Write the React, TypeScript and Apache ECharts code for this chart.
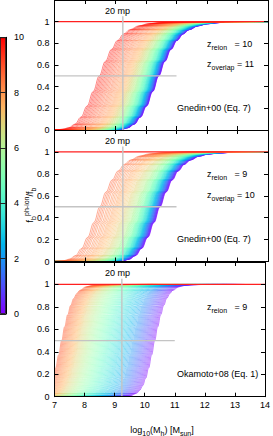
import React, { useEffect, useRef } from "react";
import * as echarts from "echarts";

// ---------- data ----------
const xTickValues = [7, 8, 9, 10, 11, 12, 13, 14];
const colorbarTicks = [0, 2, 4, 6, 8, 10];

// redshift of every drawn curve
const zTop = [0.0,0.1,0.2,0.3,0.4,0.5,0.6,0.7,0.8,0.9,1.0,1.1,1.2,1.3,1.4,1.5,1.6,1.7,1.8,1.9,2.0,2.1,2.2,2.3,2.4,2.5,2.6,2.7,2.8,2.9,3.0,3.1,3.2,3.3,3.4,3.5,3.6,3.7,3.8,3.9,4.0,4.1,4.2,4.3,4.4,4.5,4.6,4.7,4.8,4.9,5.0,5.1,5.2,5.3,5.4,5.5,5.6,5.7,5.8,5.9,6.0,6.1,6.2,6.3,6.4,6.5,6.6,6.7,6.8,6.9,7.0,7.1,7.2,7.3,7.4,7.5,7.6,7.7,7.8,7.9,8.0,8.1,8.2,8.3,8.4,8.5,8.6,8.7,8.8,8.9,9.0,9.1,9.2,9.3,9.4,9.5,9.6,9.7,9.8,9.9];
// log10 mass where each curve of the top panel crosses one half
const halfTop = [10.42,10.414,10.408,10.402,10.396,10.39,10.384,10.378,10.372,10.366,10.36,10.352,10.344,10.336,10.328,10.32,10.312,10.304,10.296,10.288,10.28,10.271,10.262,10.253,10.244,10.235,10.226,10.217,10.208,10.199,10.19,10.179,10.168,10.157,10.146,10.135,10.124,10.113,10.102,10.091,10.08,10.066,10.052,10.038,10.024,10.01,9.996,9.982,9.968,9.954,9.94,9.923,9.906,9.889,9.872,9.855,9.838,9.821,9.804,9.787,9.77,9.748,9.726,9.704,9.682,9.66,9.638,9.616,9.594,9.572,9.55,9.525,9.499,9.472,9.444,9.415,9.385,9.354,9.322,9.29,9.257,9.22,9.18,9.14,9.10,9.06,9.02,8.98,8.935,8.893,8.85,8.808,8.766,8.724,8.682,8.64,8.598,8.556,8.514,8.47];

const zMid = [0.0,0.1,0.2,0.3,0.4,0.5,0.6,0.7,0.8,0.9,1.0,1.1,1.2,1.3,1.4,1.5,1.6,1.7,1.8,1.9,2.0,2.1,2.2,2.3,2.4,2.5,2.6,2.7,2.8,2.9,3.0,3.1,3.2,3.3,3.4,3.5,3.6,3.7,3.8,3.9,4.0,4.1,4.2,4.3,4.4,4.5,4.6,4.7,4.8,4.9,5.0,5.1,5.2,5.3,5.4,5.5,5.6,5.7,5.8,5.9,6.0,6.1,6.2,6.3,6.4,6.5,6.6,6.7,6.8,6.9,7.0,7.1,7.2,7.3,7.4,7.5,7.6,7.7,7.8,7.9,8.0,8.1,8.2,8.3,8.4,8.5,8.6,8.7,8.8,8.9];
const halfMid = [10.46,10.451,10.442,10.433,10.424,10.415,10.406,10.397,10.388,10.379,10.37,10.36,10.35,10.34,10.33,10.32,10.31,10.30,10.29,10.28,10.27,10.259,10.248,10.237,10.226,10.215,10.204,10.193,10.182,10.171,10.16,10.147,10.134,10.121,10.108,10.095,10.082,10.069,10.056,10.043,10.03,10.014,9.998,9.982,9.966,9.95,9.934,9.918,9.902,9.886,9.87,9.848,9.826,9.804,9.782,9.76,9.738,9.716,9.694,9.672,9.65,9.62,9.59,9.56,9.53,9.50,9.47,9.44,9.41,9.38,9.35,9.31,9.27,9.23,9.19,9.15,9.11,9.07,9.03,8.99,8.95,8.90,8.85,8.80,8.75,8.69,8.64,8.59,8.54,8.49];

const zBot = [0.0,0.1,0.2,0.3,0.4,0.5,0.6,0.7,0.8,0.9,1.0,1.1,1.2,1.3,1.4,1.5,1.6,1.7,1.8,1.9,2.0,2.1,2.2,2.3,2.4,2.5,2.6,2.7,2.8,2.9,3.0,3.1,3.2,3.3,3.4,3.5,3.6,3.7,3.8,3.9,4.0,4.1,4.2,4.3,4.4,4.5,4.6,4.7,4.8,4.9,5.0,5.1,5.2,5.3,5.4,5.5,5.6,5.7,5.8,5.9,6.0,6.1,6.2,6.3,6.4,6.5,6.6,6.7,6.8,6.9,7.0,7.1,7.2,7.3,7.4,7.5,7.6,7.7,7.8,7.9,8.0,8.1,8.2,8.3,8.4,8.5,8.6,8.7,8.8,8.9];
const halfBot = [10.33,10.294,10.258,10.222,10.186,10.15,10.114,10.078,10.042,10.006,9.97,9.935,9.90,9.865,9.83,9.795,9.76,9.725,9.69,9.655,9.62,9.58,9.54,9.50,9.46,9.42,9.38,9.34,9.30,9.26,9.22,9.183,9.146,9.109,9.072,9.035,8.998,8.961,8.924,8.887,8.85,8.815,8.78,8.745,8.71,8.675,8.64,8.605,8.57,8.535,8.50,8.465,8.43,8.395,8.36,8.325,8.29,8.255,8.22,8.185,8.15,8.117,8.084,8.051,8.018,7.985,7.952,7.919,7.886,7.853,7.82,7.79,7.76,7.73,7.70,7.67,7.64,7.61,7.58,7.55,7.52,7.489,7.458,7.427,7.396,7.365,7.334,7.303,7.272,7.24];

// curve profile: offset in log10 mass from the half point -> fraction
const gnedinOffset = [-4,-1.6,-1.4,-1.2,-1.0,-0.8,-0.6,-0.4,-0.2,0,0.2,0.4,0.6,0.8,1.0,1.3,1.6,2.0,2.5,3.0,4.0];
const gnedinFrac = [0,0.0007,0.0023,0.0075,0.0214,0.054,0.119,0.221,0.355,0.5,0.634,0.744,0.827,0.886,0.926,0.962,0.981,0.992,0.9975,0.9992,1];
const okamotoOffset = [-4,-1.0,-0.8,-0.6,-0.5,-0.4,-0.3,-0.2,-0.1,0,0.1,0.2,0.3,0.4,0.5,0.6,0.8,1.0,1.3,1.6,3];
const okamotoFrac = [0,0.0022,0.0083,0.030,0.0555,0.098,0.164,0.257,0.373,0.5,0.623,0.730,0.8135,0.875,0.918,0.947,0.978,0.991,0.9978,0.9995,1];

const mpMass = 9.24;      // 20 particle masses
const halfLevel = 0.5;
const halfLineEnd = 11;
const mpLineTop = 1.05;
const fullLevel = 1;

// ---------- styling helpers ----------
const FONT = "Liberation Sans, Arial, sans-serif";
function pal(t: number) {
  const r = Math.min(1, Math.abs(2 * t - 0.5));
  const g = Math.max(0, Math.sin(Math.PI * t));
  const b = Math.max(0, Math.cos((Math.PI * t) / 2));
  return `rgb(${Math.round(r * 255)},${Math.round(g * 255)},${Math.round(b * 255)})`;
}

const panels = [
  { top: 0, height: 130 },
  { top: 130, height: 131.5 },
  { top: 262, height: 134.7 },
];

export default function App() {
  const ref = useRef<HTMLDivElement>(null);
  useEffect(() => {
    if (!ref.current) return;
    const chart = echarts.init(ref.current, undefined, { renderer: "svg" });

    const grid: any[] = panels.map((p) => ({ left: 54.5, right: 5, top: p.top, height: p.height }));
    grid.push({ left: 0, width: 6, top: 37.3, height: 276.7 });

    const xAxis: any[] = [];
    const yAxis: any[] = [];
    panels.forEach((_, i) => {
      xAxis.push({
        gridIndex: i, type: "value", min: xTickValues[0], max: xTickValues[xTickValues.length - 1], interval: 1,
        axisLine: { show: true, onZero: false, lineStyle: { color: "#000", width: 1 } },
        axisTick: { show: true, inside: true, length: 4, lineStyle: { color: "#000" } },
        axisLabel: { show: i === 2, margin: 4, fontSize: 9, color: "#000", fontFamily: FONT },
        splitLine: { show: false }, z: 5,
      });
    });
    panels.forEach((_, i) => {
      xAxis.push({
        gridIndex: i, type: "value", position: "top", min: 7, max: 14, interval: 1,
        axisLine: { show: true, onZero: false, lineStyle: { color: "#000", width: 1 } },
        axisTick: { show: true, inside: true, length: 4, lineStyle: { color: "#000" } },
        axisLabel: { show: false }, splitLine: { show: false }, z: 5,
      });
    });
    xAxis.push({ gridIndex: 3, type: "category", data: ["c"], show: false });

    panels.forEach((_, i) => {
      yAxis.push({
        gridIndex: i, type: "value", min: 0, max: 1.2, interval: 0.2,
        axisLine: { show: true, onZero: false, lineStyle: { color: "#000", width: 1 } },
        axisTick: { show: true, inside: true, length: 4, lineStyle: { color: "#000" } },
        axisLabel: {
          margin: 5, fontSize: 9, color: "#000", fontFamily: FONT,
          formatter: (v: number) => (v > 1.05 ? "" : String(+v.toFixed(1))),
        },
        splitLine: { show: false }, z: 5,
      });
    });
    panels.forEach((_, i) => {
      yAxis.push({
        gridIndex: i, type: "value", position: "right", min: 0, max: 1.2, interval: 0.2,
        axisLine: { show: true, onZero: false, lineStyle: { color: "#000", width: 1 } },
        axisTick: { show: true, inside: true, length: 4, lineStyle: { color: "#000" } },
        axisLabel: { show: false }, splitLine: { show: false }, z: 5,
      });
    });
    yAxis.push({
      gridIndex: 3, type: "value", position: "right", min: colorbarTicks[0], max: colorbarTicks[colorbarTicks.length - 1], interval: 2, z: 10,
      axisLine: { show: true, lineStyle: { color: "#000", width: 1 } },
      axisTick: { show: true, inside: true, length: 6, lineStyle: { color: "#222", width: 1 } },
      axisLabel: { margin: 8, fontSize: 9, color: "#000", fontFamily: FONT },
      splitLine: { show: false },
    });

    const series: any[] = [];
    const addCurves = (pi: number, zs: number[], halves: number[], U: number[], F: number[]) => {
      zs.forEach((z, k) => {
        series.push({
          type: "line", xAxisIndex: pi, yAxisIndex: pi, silent: true, clip: true,
          symbol: "none", smooth: 0.4, smoothMonotone: "x",
          data: U.map((u, j) => [halves[k] + u, F[j]]),
          lineStyle: { color: pal(z / 10), width: 0.5 },
          z: 2,
        });
      });
    };
    addCurves(0, zTop, halfTop, gnedinOffset, gnedinFrac);
    addCurves(1, zMid, halfMid, gnedinOffset, gnedinFrac);
    addCurves(2, zBot, halfBot, okamotoOffset, okamotoFrac);

    panels.forEach((_, i) => {
      const line = (data: number[][], color: string, width: number) => ({
        type: "line", xAxisIndex: i, yAxisIndex: i, silent: true, symbol: "none",
        data, lineStyle: { color, width }, z: 4,
      });
      series.push(line([[7, fullLevel], [14, fullLevel]], "#ff2020", 1.3));
      series.push(line([[7, halfLevel], [halfLineEnd, halfLevel]], "#c4c4c4", 1.4));
      series.push(line([[mpMass, 0], [mpMass, mpLineTop]], "#c4c4c4", 1.4));
    });

    const stops = [];
    for (let k = 0; k <= 20; k++) stops.push({ offset: k / 20, color: pal(k / 20) });
    series.push({
      type: "bar", xAxisIndex: 6, yAxisIndex: 6, data: [10], barWidth: "100%", silent: true,
      itemStyle: { color: { type: "linear", x: 0, y: 1, x2: 0, y2: 0, colorStops: stops }, borderColor: "#000", borderWidth: 0.8 },
    });

    const sub = { fontSize: 7, lineHeight: 8, verticalAlign: "bottom", fontFamily: FONT, fill: "#000" };
    const sup = { fontSize: 7, lineHeight: 8, verticalAlign: "top", fontFamily: FONT, fill: "#000" };
    const m = { fontSize: 9, lineHeight: 14, fontFamily: FONT, fill: "#000" };
    const txt = (x: number, y: number, text: string, align = "left", extra: any = {}) => ({
      type: "text", x, y, silent: true, z: 20, ...extra,
      style: { text, align, verticalAlign: "middle", rich: { m, s: sub, p: sup }, fontSize: 9, fontFamily: FONT, fill: "#000" },
    });

    const graphic = [
      txt(117.5, 10.5, "{m|20 mp}", "center"),
      txt(117.5, 141, "{m|20 mp}", "center"),
      txt(117.5, 272.7, "{m|20 mp}", "center"),
      txt(207, 43.5, "{m|z}{s|reion}{m|   = 10}"),
      txt(207, 64, "{m|z}{s|overlap}{m| = 11}"),
      txt(177, 108.3, "{m|Gnedin+00 (Eq. 7)}"),
      txt(207, 173.5, "{m|z}{s|reion}{m|   = 9}"),
      txt(207, 195, "{m|z}{s|overlap}{m| = 10}"),
      txt(177, 239.4, "{m|Gnedin+00 (Eq. 7)}"),
      txt(207, 306.8, "{m|z}{s|reion}{m|   = 9}"),
      txt(177, 374.3, "{m|Okamoto+08 (Eq. 1)}"),
      txt(162, 429.5, "{m|log}{s|10}{m|(M}{s|h}{m|) [M}{s|sun}{m|]}", "center"),
      txt(30, 205, "{m|f}{s|b}{p|ph-ion}{m|/f}{s|b}", "center", { rotation: Math.PI / 2 }),
    ];

    chart.setOption({
      animation: false,
      textStyle: { fontFamily: FONT },
      grid, xAxis, yAxis, series, graphic,
    });
    return () => chart.dispose();
  }, []);
  return <div ref={ref} style={{ position: "absolute", left: 0, top: 0, width: 273, height: 436 }} />;
}
